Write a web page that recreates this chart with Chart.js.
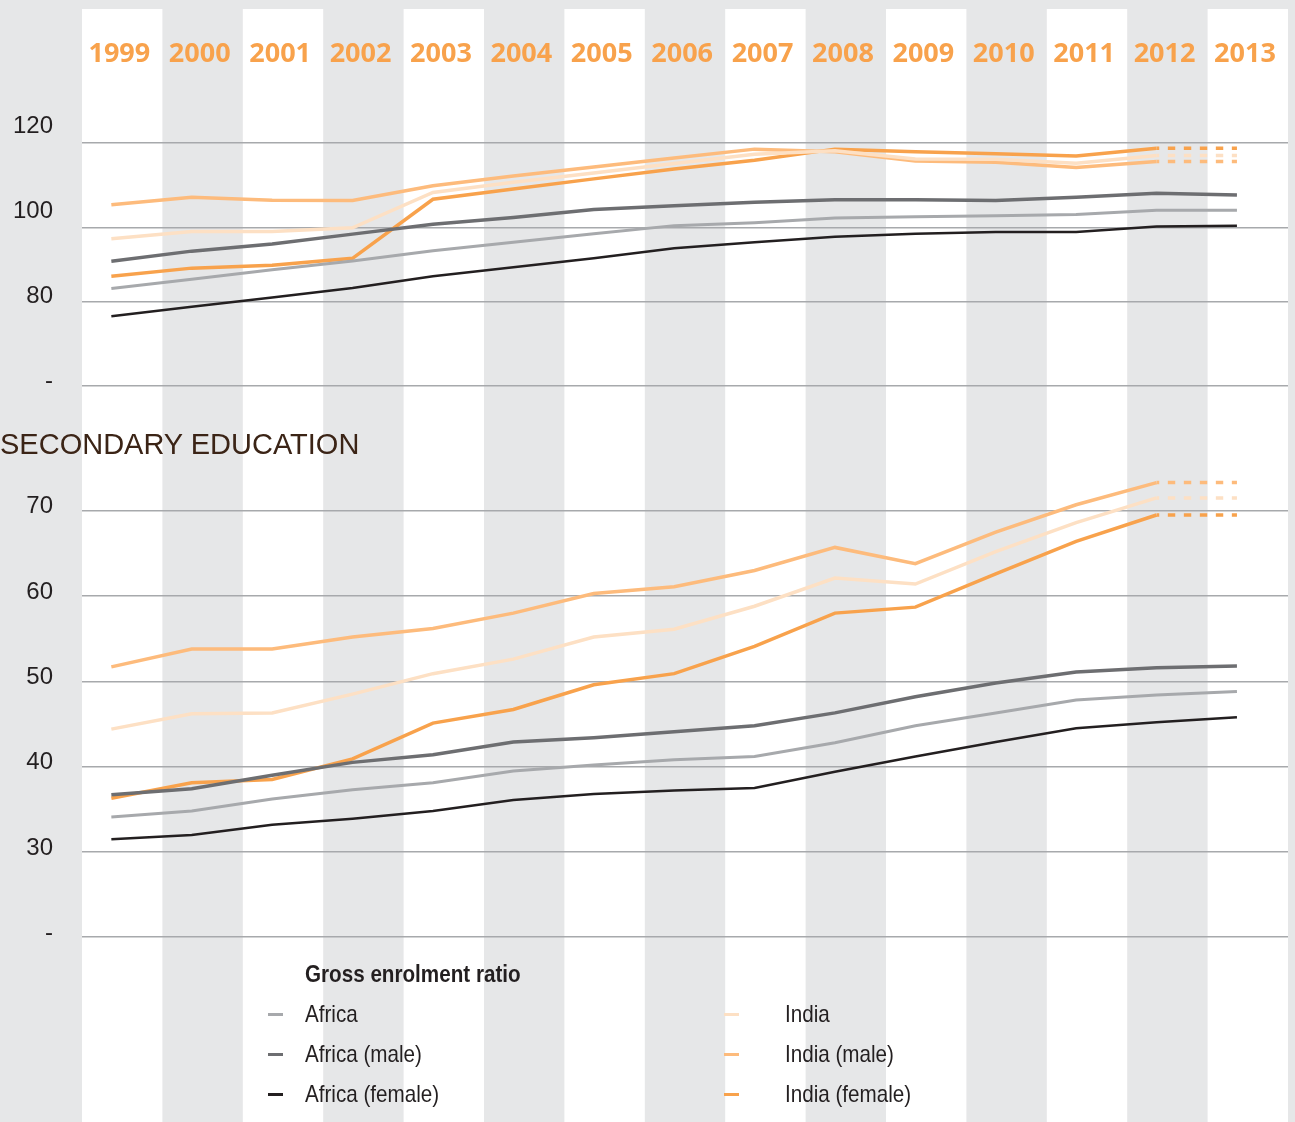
<!DOCTYPE html>
<html>
<head>
<meta charset="utf-8">
<title>Gross enrolment ratio - Africa / India</title>
<script src="https://cdn.jsdelivr.net/npm/chart.js@4.4.0/dist/chart.umd.min.js"></script>
<style>
  body { margin: 0; background: #e6e7e8; }
  #khung { position: relative; width: 1295px; height: 1122px; overflow: hidden; }
  #bieudo { position: absolute; left: 0; top: 0; }
  .hep { font-family: "Liberation Sans Narrow", "Arial Narrow", "Liberation Sans", sans-serif; color: #231f20; }
  .ep { display: inline-block; transform: scaleX(0.86); transform-origin: left center; }
  #tieuDePhu { position: absolute; left: 0; top: 430px; font-family: "Liberation Sans", sans-serif;
               font-size: 29px; line-height: 29px; color: #3b2416; white-space: nowrap; }
  #tieuDeChuThich { position: absolute; left: 305px; top: 962px; font-size: 24px; line-height: 24px; font-weight: bold; white-space: nowrap; }
  .muc { position: absolute; height: 24px; font-size: 24px; line-height: 24px; white-space: nowrap; }
  .muc .vach { position: absolute; left: 0; top: 11px; width: 15px; height: 3px; }
  .muc .chu { position: absolute; top: 0; }
</style>
</head>
<body>
<div id="khung">
  <canvas id="bieudo"></canvas>
  <div id="tieuDePhu">SECONDARY EDUCATION</div>
  <div id="tieuDeChuThich" class="hep"><span class="ep">Gross enrolment ratio</span></div>
  <div id="chuThich" class="hep"></div>
</div>
<script>
// Dữ liệu ----------------------------------------------------------------
const namHoc = ['1999', '2000', '2001', '2002', '2003', '2004', '2005', '2006',
                '2007', '2008', '2009', '2010', '2011', '2012', '2013'];

// Tiểu học (khung trên)
const chinhAfrica    = [82.7, 84.9, 87.1, 89.2, 91.6, 93.6, 95.6, 97.5, 98.2, 99.3, 99.6, 99.8, 100.1, 101.1, 101.1];
const chinhAfricaNam = [89.1, 91.5, 93.2, 95.5, 97.8, 99.4, 101.3, 102.2, 103.0, 103.6, 103.6, 103.4, 104.2, 105.1, 104.7];
const chinhAfricaNu  = [76.2, 78.4, 80.6, 82.8, 85.6, 87.7, 89.8, 92.2, 93.6, 94.9, 95.6, 96.0, 96.0, 97.3, 97.5];
const chinhIndia     = [94.4, 96.1, 96.1, 97.0, 105.3, 107.7, 109.9, 112.1, 114.3, 115.1, 113.2, 113.1, 112.2, 114.0, 114.0];
const chinhIndiaNam  = [102.4, 104.2, 103.5, 103.4, 106.9, 109.2, 111.3, 113.4, 115.5, 114.9, 112.7, 112.4, 111.2, 112.6, 112.6];
const chinhIndiaNu   = [85.6, 87.5, 88.2, 89.8, 103.7, 106.1, 108.5, 110.8, 112.9, 115.5, 114.9, 114.4, 113.9, 115.7, 115.7];

// Trung học (khung dưới)
const phuAfrica    = [34.1, 34.8, 36.2, 37.3, 38.1, 39.5, 40.2, 40.8, 41.2, 42.8, 44.8, 46.3, 47.8, 48.4, 48.8];
const phuAfricaNam = [36.7, 37.4, 39.0, 40.5, 41.4, 42.9, 43.4, 44.1, 44.8, 46.3, 48.2, 49.8, 51.1, 51.6, 51.8];
const phuAfricaNu  = [31.5, 32.0, 33.2, 33.9, 34.8, 36.1, 36.8, 37.2, 37.5, 39.4, 41.2, 42.9, 44.5, 45.2, 45.8];
const phuIndia     = [44.4, 46.2, 46.3, 48.5, 50.9, 52.6, 55.2, 56.1, 58.8, 62.1, 61.4, 65.2, 68.6, 71.5, 71.5];
const phuIndiaNam  = [51.7, 53.8, 53.8, 55.2, 56.2, 58.0, 60.3, 61.1, 63.0, 65.7, 63.8, 67.5, 70.7, 73.3, 73.3];
const phuIndiaNu   = [36.3, 38.1, 38.5, 40.9, 45.1, 46.7, 49.6, 50.9, 54.1, 58.0, 58.7, 62.6, 66.4, 69.5, 69.5];

// Nhãn trục tung
const mocChinh = [60, 80, 100, 120];        // 60 hiện là "-"
const mocPhu = [20, 30, 40, 50, 60, 70];    // 20 hiện là "-"
// đường lưới khung trên (bản gốc vẽ lệch so với nhãn)
const luoiChinh = [59.8, 79.7, 97, 117];

// Kiểu -------------------------------------------------------------------
const mau = {
  africa: '#a7a9ac', africaNam: '#6d6e71', africaNu: '#231f20',
  india: '#fde0c4', indiaNam: '#fdbb7c', indiaNu: '#f8a24c'
};
const LECH = 0.365; // điểm dữ liệu nằm lệch trái trong mỗi cột năm
const chuTruc = '"Liberation Sans", sans-serif';

function taoDuong(nhan, duLieu, mauVe, doDay, truc, duDoan) {
  const ds = {
    label: nhan,
    data: duLieu.map((v, i) => ({ x: i, y: v })),
    borderColor: mauVe,
    backgroundColor: mauVe,
    borderWidth: doDay,
    yAxisID: truc,
    pointRadius: 0,
    tension: 0,
    fill: false
  };
  if (duDoan) {
    // đoạn 2012-2013 vẽ nét đứt
    ds.segment = {
      borderDash: ctx => ctx.p0DataIndex === namHoc.length - 2 ? [7.4, 8.6] : undefined,
      borderDashOffset: ctx => ctx.p0DataIndex === namHoc.length - 2 ? 4.7 : undefined
    };
  }
  return ds;
}

const duongChinh = [
  taoDuong('Africa', chinhAfrica, mau.africa, 3, 'yTren', false),
  taoDuong('Africa (male)', chinhAfricaNam, mau.africaNam, 3.5, 'yTren', false),
  taoDuong('Africa (female)', chinhAfricaNu, mau.africaNu, 2.5, 'yTren', false),
  taoDuong('India', chinhIndia, mau.india, 3.5, 'yTren', true),
  taoDuong('India (male)', chinhIndiaNam, mau.indiaNam, 3.5, 'yTren', true),
  taoDuong('India (female)', chinhIndiaNu, mau.indiaNu, 3.5, 'yTren', true)
];
const duongPhu = [
  taoDuong('Africa', phuAfrica, mau.africa, 3, 'yDuoi', false),
  taoDuong('Africa (male)', phuAfricaNam, mau.africaNam, 3.5, 'yDuoi', false),
  taoDuong('Africa (female)', phuAfricaNu, mau.africaNu, 2.5, 'yDuoi', false),
  taoDuong('India', phuIndia, mau.india, 3.5, 'yDuoi', true),
  taoDuong('India (male)', phuIndiaNam, mau.indiaNam, 3.5, 'yDuoi', true),
  taoDuong('India (female)', phuIndiaNu, mau.indiaNu, 3.5, 'yDuoi', true)
];

// Nền: các cột năm trắng / xám xen kẽ
const nenCot = {
  id: 'nenCot',
  beforeDraw(chart) {
    const { ctx, scales: { x } } = chart;
    ctx.save();
    ctx.fillStyle = '#e6e7e8';
    ctx.fillRect(0, 0, chart.width, chart.height);
    ctx.fillStyle = '#ffffff';
    namHoc.forEach((nam, i) => {
      if (i % 2) return;
      const trai = x.getPixelForValue(i - LECH);
      const phai = x.getPixelForValue(i + 1 - LECH);
      ctx.fillRect(trai, x.top, phai - trai, chart.height - x.top);
    });
    ctx.restore();
  }
};

// bỏ phần đệm nửa nhãn mà Chart.js tự thêm ở hai đầu trục
function khongDem(s) {
  s.paddingTop = 0; s.paddingBottom = 0; s.paddingLeft = 0; s.paddingRight = 0;
}

const nhanTrucTung = { color: '#231f20', font: { family: chuTruc, size: 24 }, padding: 29, labelOffset: -4 };
const luoiXam = { color: '#a7a9ac', lineWidth: 1.5, drawTicks: false };

const bieuDo = new Chart(document.getElementById('bieudo'), {
  type: 'line',
  data: { datasets: duongChinh.concat(duongPhu) },
  options: {
    responsive: true,
    maintainAspectRatio: false,
    animation: false,
    events: [],
    layout: { padding: { top: 9, right: 7, left: 0, bottom: 0 } },
    plugins: { legend: { display: false }, tooltip: { enabled: false } },
    scales: {
      x: {
        type: 'linear',
        position: 'top',
        min: -LECH,
        max: namHoc.length - LECH,
        afterBuildTicks: s => { s.ticks = namHoc.map((n, i) => ({ value: i })); },
        afterFit: s => { s.height = 91; khongDem(s); },
        grid: { display: false, drawTicks: false },
        border: { display: false },
        ticks: {
          callback: v => namHoc[v],
          color: '#f8a24c',
          font: { family: '"Open Sans", sans-serif', size: 27, weight: 'bold' },
          padding: 29,
          labelOffset: 8,
          autoSkip: false,
          maxRotation: 0
        }
      },
      // khung trên: 120 ở y=130, 4.25 px mỗi đơn vị, cao 310 px
      yTren: {
        type: 'linear', position: 'left', weight: 2,
        stack: 'khung', stackWeight: 310,
        min: 54.12, max: 127.06,
        afterBuildTicks: s => { s.ticks = mocChinh.map(v => ({ value: v })); },
        afterFit: s => { s.width = 82; khongDem(s); },
        grid: { display: false, drawTicks: false },
        border: { display: false },
        ticks: Object.assign({ callback: v => v === mocChinh[0] ? '-' : v }, nhanTrucTung)
      },
      // khung dưới: 70 ở y=510.7, 8.53 px mỗi đơn vị, cao 712 px
      yDuoi: {
        type: 'linear', position: 'left', weight: 1,
        stack: 'khung', stackWeight: 712,
        min: -1.66, max: 81.81,
        afterBuildTicks: s => { s.ticks = mocPhu.map(v => ({ value: v })); },
        afterFit: s => { s.width = 82; khongDem(s); },
        grid: luoiXam,
        border: { display: false },
        ticks: Object.assign({ callback: v => v === mocPhu[0] ? '-' : v }, nhanTrucTung)
      },
      // chỉ để vẽ lưới khung trên, trải hết vùng biểu đồ
      yLuoiTren: {
        type: 'linear', position: 'left', weight: 0,
        min: -113.4, max: 127.06,
        afterBuildTicks: s => { s.ticks = luoiChinh.map(v => ({ value: v })); },
        afterFit: s => { s.width = 0; khongDem(s); },
        grid: luoiXam,
        border: { display: false },
        ticks: { display: false }
      }
    }
  },
  plugins: [nenCot]
});

// Chú thích HTML: hai cột, Africa bên trái, India bên phải
const cotVach = [268, 724];
const cotChu = [37, 61];
const hangTren = 1002;
const khoangHang = 40;
const chuThich = document.getElementById('chuThich');
duongChinh.forEach((ds, i) => {
  const cot = i < 3 ? 0 : 1;
  const hang = i % 3;
  const muc = document.createElement('div');
  muc.className = 'muc';
  muc.style.left = cotVach[cot] + 'px';
  muc.style.top = (hangTren + hang * khoangHang) + 'px';
  const vach = document.createElement('span');
  vach.className = 'vach';
  vach.style.background = ds.borderColor;
  const chu = document.createElement('span');
  chu.className = 'chu';
  chu.style.left = cotChu[cot] + 'px';
  const ep = document.createElement('span');
  ep.className = 'ep';
  ep.textContent = ds.label;
  chu.appendChild(ep);
  muc.appendChild(vach);
  muc.appendChild(chu);
  chuThich.appendChild(muc);
});
</script>
</body>
</html>
